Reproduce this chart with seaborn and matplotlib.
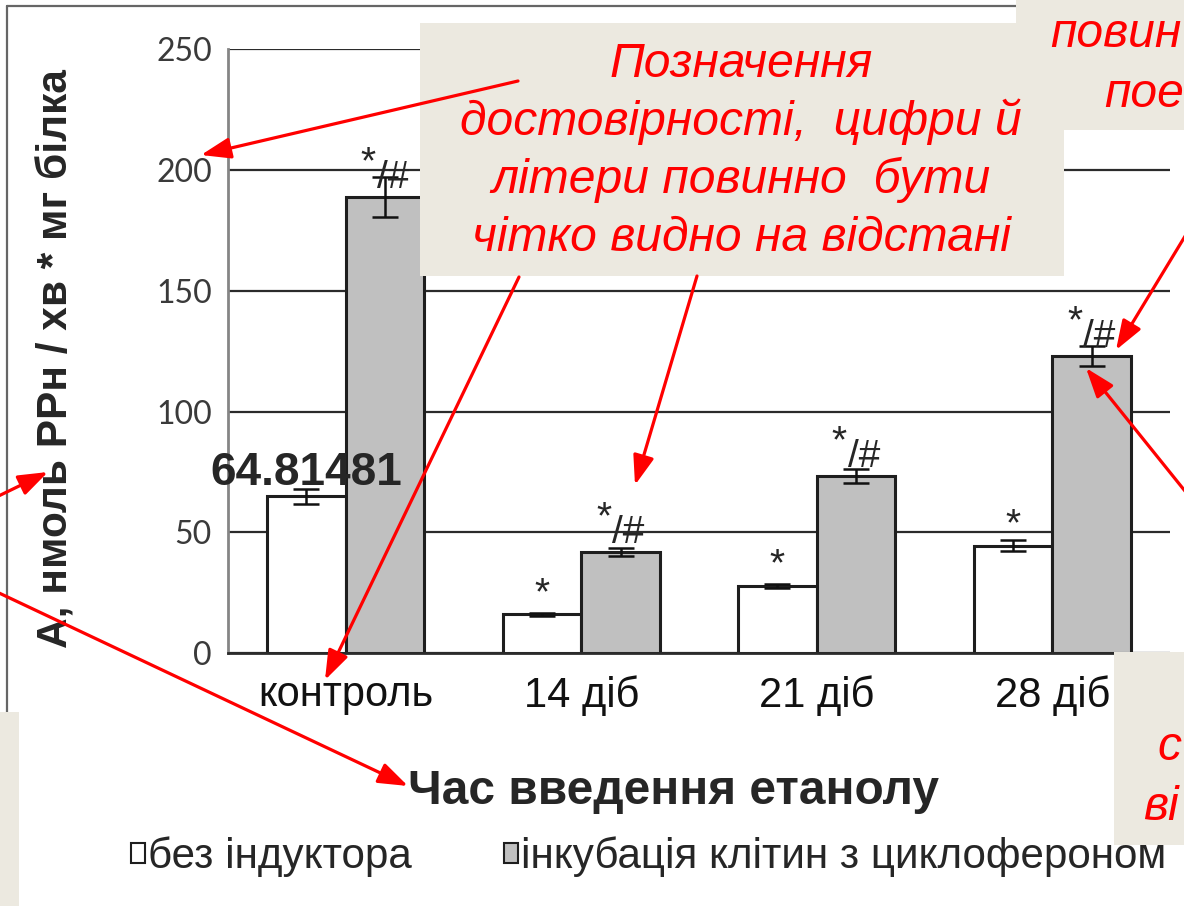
import matplotlib
matplotlib.use("Agg")
import matplotlib.pyplot as plt
from matplotlib.patches import Rectangle, FancyArrowPatch
from matplotlib.lines import Line2D
import seaborn as sns
import pandas as pd
import numpy as np

# ---- data -------------------------------------------------------------
periods = ["контроль", "14 діб", "21 діб", "28 діб"]
groups = ["без індуктора", "інкубація клітин з циклофероном"]
no_inductor = [64.81481, 16.0, 27.8, 44.5]
no_inductor_err = [3.3, 0.6, 0.8, 2.3]
cycloferon = [189.0, 41.8, 73.4, 123.0]
cycloferon_err = [8.3, 1.8, 3.0, 4.0]
marks_no_inductor = ["", "*", "*", "*"]
marks_cycloferon = ["*/#", "*/#", "*/#", "*/#"]
y_ticks = [0, 50, 100, 150, 200, 250]

y_label = "А, нмоль РРн / хв * мг білка"
x_label = "Час введення етанолу"

note_main = ["Позначення", "достовірності,  цифри й",
             "літери повинно  бути", "чітко видно на відстані"]
note_top = ["повин", "пое"]
note_bottom = ["с", "ві"]

# ---- figure -----------------------------------------------------------
W, H = 1184, 906
sns.set_style("white")
plt.rcParams["font.family"] = ["Liberation Sans", "DejaVu Sans"]

fig = plt.figure(figsize=(W / 100, H / 100), dpi=100)
fig.patch.set_facecolor("white")


def fx(px):
    return px / W


def fy(py):
    return 1 - py / H


ax = fig.add_axes([fx(228), fy(653), 942 / W, (653 - 49.3) / H])

df = pd.DataFrame({
    "period": periods * 2,
    "group": [groups[0]] * len(periods) + [groups[1]] * len(periods),
    "value": no_inductor + cycloferon,
})

sns.barplot(data=df, x="period", y="value", hue="group", order=periods,
            hue_order=groups, palette=["white", "#C0C0C0"], saturation=1,
            edgecolor="#1e1e1e", linewidth=2.2, width=0.667,
            errorbar=None, legend=False, ax=ax, zorder=2)
bar_sets = list(ax.containers)

ax.set_xlim(-0.5, len(periods) - 0.5)
ax.set_ylim(0, 250)
ax.set_yticks(y_ticks)
ax.yaxis.grid(True, color="#2b2b2b", linewidth=1.6)
ax.set_axisbelow(True)

for side in ["top", "right"]:
    ax.spines[side].set_visible(False)
ax.spines["left"].set_color("#858585")
ax.spines["left"].set_linewidth(2)
ax.spines["bottom"].set_color("#2b2b2b")
ax.spines["bottom"].set_linewidth(2)

ax.tick_params(axis="y", which="major", length=8.6, width=1.6,
               color="#2b2b2b", pad=3, labelsize=23, labelcolor="#3a3a3a")
for lab in ax.get_yticklabels():
    lab.set_fontfamily("Lato")
ax.set_xticks(np.arange(len(periods) + 1) - 0.5, minor=True)
ax.tick_params(axis="x", which="minor", length=9, width=1.6,
               color="#707070", direction="out")
ax.tick_params(axis="x", which="major", length=0, pad=16, labelsize=30,
               labelcolor="#111111")

ax.set_ylabel(y_label, fontsize=30.5, fontweight="bold", va="center")
ax.yaxis.set_label_coords((57 - 228) / 942, (653 - 359) / 603.7)
ax.set_xlabel(x_label, fontsize=34.5, fontweight="bold", va="center")
ax.xaxis.set_label_coords((674 - 228) / 942, (653 - 792) / 603.7)

# error bars and significance marks on top of each bar
series = [(no_inductor, no_inductor_err, marks_no_inductor),
          (cycloferon, cycloferon_err, marks_cycloferon)]
for cont, (vals, errs, marks) in zip(bar_sets, series):
    xs = [p.get_x() + p.get_width() / 2 for p in cont.patches]
    ax.errorbar(xs, vals, yerr=errs, fmt="none", ecolor="#111111",
                elinewidth=1.8, capsize=9.5, capthick=1.8, zorder=4)
    for x, v, m in zip(xs, vals, marks):
        if not m:
            continue
        if len(m) == 1:
            ax.annotate(m, xy=(x, v), xytext=(0, 7.5), textcoords="offset points",
                        ha="center", va="baseline", fontsize=28, zorder=5)
        else:
            ax.annotate(m[0], xy=(x, v), xytext=(-12, 17),
                        textcoords="offset points", ha="center",
                        va="baseline", fontsize=28, zorder=5)
            ax.annotate(m[1:], xy=(x, v), xytext=(-6, 6.5),
                        textcoords="offset points", ha="left",
                        va="baseline", fontsize=28, zorder=5)

# value label of the control bar without inducer
p0 = bar_sets[0].patches[0]
ax.annotate(f"{no_inductor[0]:.5f}", xy=(p0.get_x() + p0.get_width() / 2, no_inductor[0]),
            xytext=(0, 8), textcoords="offset points", ha="center",
            va="baseline", fontsize=33, fontweight="bold", zorder=6)

# legend under the x label
handles = [c.patches[0] for c in bar_sets]
leg = fig.legend(handles, groups, loc="center left",
                 bbox_to_anchor=(fx(131), fy(857)), ncol=2, frameon=False,
                 fontsize=30.3, handlelength=0.34, handleheight=0.34,
                 handletextpad=0.06, columnspacing=2.2, borderpad=0,
                 borderaxespad=0)
for h in leg.legend_handles:
    h.set_linewidth(1.5)

# ---- slide frame and callout notes --------------------------------------
fig.add_artist(Line2D([fx(7), fx(1184)], [fy(6), fy(6)], color="#666666",
                      linewidth=1.6))
fig.add_artist(Line2D([fx(7), fx(7)], [fy(6), fy(712)], color="#666666",
                      linewidth=1.6))

beige = "#ECE9E0"
boxes = [(420, 23, 1064, 276), (1016, 0, 1184, 130),
         (1114, 652, 1184, 845), (0, 712, 19, 906)]
for x0, y0, x1, y1 in boxes:
    fig.add_artist(Rectangle((fx(x0), fy(y1)), fx(x1) - fx(x0),
                             fy(y0) - fy(y1), transform=fig.transFigure,
                             facecolor=beige, edgecolor="none", zorder=10))

red = "#FF0000"
note_style = dict(color=red, fontstyle="italic", fontsize=34.6, zorder=11,
                  va="baseline")
for txt, yb in zip(note_main, [77, 135, 193, 251]):
    fig.text(fx(741), fy(yb), txt, ha="center", **note_style)
for txt, (xl, yb) in zip(note_top, [(1050, 47), (1104, 107)]):
    fig.text(fx(xl), fy(yb), txt, ha="left", **note_style)
for txt, (xl, yb) in zip(note_bottom, [(1157, 760), (1143, 820)]):
    fig.text(fx(xl), fy(yb), txt, ha="left", **note_style)

arrows = [((518, 81), (201, 155)),
          ((519, 277), (325, 680)),
          ((697, 276), (635, 485)),
          ((1207, 200), (1116, 350)),
          ((1230, 547), (1086, 368)),
          ((-20, 505), (48, 472)),
          ((-20, 584), (408, 786))]
for (xa, ya), (xb, yb) in arrows:
    fig.add_artist(FancyArrowPatch((fx(xa), fy(ya)), (fx(xb), fy(yb)),
                                   transform=fig.transFigure,
                                   arrowstyle="-|>,head_length=0.9,head_width=0.32",
                                   mutation_scale=20, color=red, linewidth=2.3,
                                   shrinkA=0, shrinkB=0, zorder=12))

fig.savefig("out.png", dpi=100)
